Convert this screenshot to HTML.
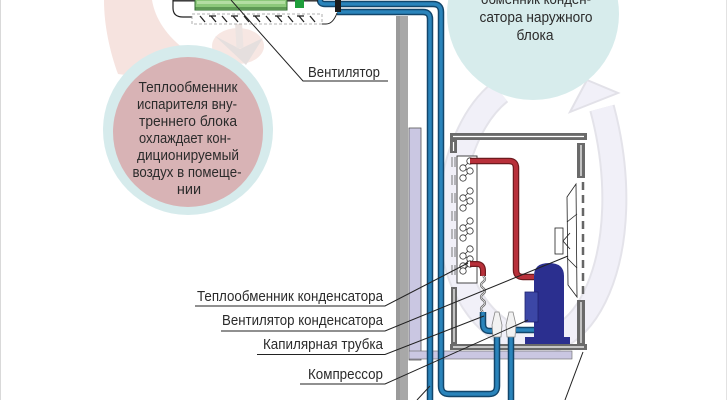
<!DOCTYPE html>
<html><head><meta charset="utf-8">
<style>
html,body{margin:0;padding:0;background:#fff}
svg{display:block}
text{font-family:"Liberation Sans","DejaVu Sans",sans-serif;fill:#2b2b2b}
</style></head>
<body>
<svg width="728" height="400" viewBox="0 0 728 400" xmlns="http://www.w3.org/2000/svg">
<rect width="728" height="400" fill="#fff"/>

<!-- pale background arrows -->
<path d="M104 0 L152 0 C155 18 166 36 188 52 L160 80 L118 74 C110 52 104 26 104 0 Z" fill="#f6e3df"/>
<ellipse cx="238" cy="46" rx="26" ry="18" fill="#f7e7e3"/>
<polygon points="215,36 240,49 263,38 246,65" fill="#e5dfde"/>
<line x1="238" y1="14" x2="240" y2="48" stroke="#ece4e2" stroke-width="7"/>

<!-- lavender loop around outdoor unit -->
<path d="M500 92 C440 140 425 290 510 336 C585 372 640 250 602 108" fill="none" stroke="#e4e3ea" stroke-width="26"/>
<path d="M500 92 C440 140 425 290 510 336 C585 372 640 250 602 108" fill="none" stroke="#f1f0f8" stroke-width="22"/>
<polygon points="587,80 570,112 618,93" fill="#f1f0f8" stroke="#e2e1e8" stroke-width="2"/>

<!-- right circle -->
<circle cx="533" cy="14" r="86" fill="#d7ecec"/>
<text x="536" y="4" font-size="14.5" text-anchor="middle" textLength="110" lengthAdjust="spacingAndGlyphs">обменник конден-</text>
<text x="536" y="22" font-size="14.5" text-anchor="middle" textLength="113" lengthAdjust="spacingAndGlyphs">сатора наружного</text>
<text x="535" y="40" font-size="14.5" text-anchor="middle" textLength="37" lengthAdjust="spacingAndGlyphs">блока</text>

<!-- left circle -->
<circle cx="188" cy="130" r="85" fill="#d6ebec"/>
<circle cx="188" cy="132" r="75" fill="#d8b3b5"/>
<g font-size="14.5" text-anchor="middle">
<text x="188" y="92" textLength="99" lengthAdjust="spacingAndGlyphs">Теплообменник</text>
<text x="187" y="109" textLength="100" lengthAdjust="spacingAndGlyphs">испарителя вну-</text>
<text x="188" y="126" textLength="98" lengthAdjust="spacingAndGlyphs">треннего блока</text>
<text x="185" y="143" textLength="92" lengthAdjust="spacingAndGlyphs">охлаждает кон-</text>
<text x="188" y="160" textLength="102" lengthAdjust="spacingAndGlyphs">диционируемый</text>
<text x="187" y="177" textLength="109" lengthAdjust="spacingAndGlyphs">воздух в помеще-</text>
<text x="189" y="194">нии</text>
</g>

<!-- wall -->
<rect x="396" y="16" width="12" height="384" fill="#a8a8a8"/>
<rect x="396" y="16" width="4" height="384" fill="#9a9a9a"/>
<!-- lavender strips -->
<rect x="409" y="128" width="12" height="232" fill="#cac7e2" stroke="#555" stroke-width="0.8"/>
<rect x="409" y="351" width="163" height="8" fill="#cac7e2" stroke="#666" stroke-width="0.6"/>

<!-- outdoor unit frame -->
<g fill="#6a6a6a">
<rect x="450" y="133" width="137" height="7"/>
<rect x="450" y="140" width="7" height="13"/>
<rect x="451" y="287" width="6" height="57"/>
<rect x="450" y="344" width="137" height="6"/>
<rect x="577" y="143" width="8" height="35"/>
<rect x="577" y="300" width="8" height="45"/>
</g>
<g stroke="#fff" stroke-width="1.2">
<line x1="453" y1="136.5" x2="584" y2="136.5"/>
<line x1="453" y1="347" x2="584" y2="347"/>
<line x1="453.5" y1="142" x2="453.5" y2="151"/>
<line x1="454" y1="289" x2="454" y2="342"/>
<line x1="581" y1="145" x2="581" y2="176"/>
<line x1="581" y1="302" x2="581" y2="343"/>
</g>
<g stroke="#777" stroke-width="1" stroke-dasharray="10 8">
<line x1="452" y1="157" x2="452" y2="283"/>
<line x1="455" y1="157" x2="455" y2="283"/>
</g>
<line x1="583" y1="182" x2="583" y2="298" stroke="#666" stroke-width="2.5" stroke-dasharray="8 5"/>

<!-- coil -->
<rect x="457" y="156" width="20" height="127" fill="#fff" stroke="#333" stroke-width="0.9"/>
<g fill="#fff" stroke="#333" stroke-width="0.8">
<g id="grp">
<line x1="470" y1="161" x2="463" y2="168"/><line x1="463" y1="168" x2="470" y2="171"/><line x1="470" y1="171" x2="463" y2="178"/>
<circle cx="470" cy="161" r="3.2"/><circle cx="463" cy="168" r="3.2"/><circle cx="470" cy="171" r="3.2"/><circle cx="463" cy="178" r="3.2"/>
</g>
<use href="#grp" y="30"/>
<use href="#grp" y="60"/>
<use href="#grp" y="88"/>
<circle cx="470" cy="264" r="3.2"/><circle cx="463" cy="271" r="3.2"/><line x1="468" y1="266" x2="465" y2="269"/>
</g>

<!-- red pipes -->
<path d="M470 161 L509 161 Q516 161 516 168 L516 270 Q516 277 523 277 L534 277" fill="none" stroke="#6e1a1e" stroke-width="6.5"/>
<path d="M470 161 L509 161 Q516 161 516 168 L516 270 Q516 277 523 277 L534 277" fill="none" stroke="#b8303a" stroke-width="4"/>
<path d="M470 264 L477 264 Q483 264 483 271 L483 276" fill="none" stroke="#6e1a1e" stroke-width="6"/>
<path d="M470 264 L477 264 Q483 264 483 271 L483 276" fill="none" stroke="#b8303a" stroke-width="3.6"/>
<!-- capillary -->
<path d="M483 276 q4 3 0 6 q-4 3 0 6 q4 3 0 6 q-4 3 0 6 q4 3 0 6 q-4 3 0 6" fill="none" stroke="#555" stroke-width="2.2"/>
<path d="M483 276 q4 3 0 6 q-4 3 0 6 q4 3 0 6 q-4 3 0 6 q4 3 0 6 q-4 3 0 6" fill="none" stroke="#ddd" stroke-width="0.9"/>

<!-- compressor -->
<path d="M534 338 L534 276 Q534 263 549 263 Q564 263 564 276 L564 338 Z" fill="#2b2f8f"/>
<rect x="525" y="337" width="45" height="7" fill="#2b2f8f"/>
<rect x="525" y="292" width="13" height="30" fill="#3c47a6" stroke="#1e2170" stroke-width="0.8"/>

<!-- fan -->
<rect x="555" y="228" width="8" height="26" fill="#fff" stroke="#222" stroke-width="0.8"/>
<polygon points="567,197 576,184 577,297 568,285" fill="#fff" stroke="#222" stroke-width="0.8"/>
<g stroke="#222" stroke-width="0.8" fill="none">
<line x1="567" y1="222" x2="577" y2="214"/>
<line x1="567" y1="258" x2="577" y2="268"/>
<line x1="563" y1="241" x2="570" y2="233"/>
<line x1="563" y1="241" x2="570" y2="249"/>
</g>

<!-- blue pipes -->
<g fill="none" stroke="#12466b" stroke-width="6.5">
<path d="M320 -6 L320 0 Q320 4 325 4 L433 4 Q441 4 441 12 L441 386 Q441 394 449 394 L489 394 Q497 394 497 386 L497 336"/>
<path d="M337 12 L423 12 Q430 12 430 19 L430 400"/>
<path d="M511 336 L511 400"/>
<path d="M516 330 L534 330"/>
<path d="M483 312 L483 324 Q483 331 490 331 L494 331"/>
</g>
<g fill="none" stroke="#2a84bb" stroke-width="3.5">
<path d="M320 -6 L320 0 Q320 4 325 4 L433 4 Q441 4 441 12 L441 386 Q441 394 449 394 L489 394 Q497 394 497 386 L497 336"/>
<path d="M337 12 L423 12 Q430 12 430 19 L430 400"/>
<path d="M511 336 L511 400"/>
<path d="M516 330 L534 330"/>
<path d="M483 312 L483 324 Q483 331 490 331 L494 331"/>
</g>
<!-- valves -->
<g fill="#f2f2f2" stroke="#888" stroke-width="0.8">
<path d="M495 312 L499 312 L502 325 L501 337 L493 337 L492 325 Z"/>
<path d="M509 312 L513 312 L516 325 L515 337 L507 337 L506 325 Z"/>
</g>

<!-- indoor unit -->
<line x1="173" y1="0.8" x2="318" y2="0.8" stroke="#222" stroke-width="1.4"/>
<path d="M173 0 L173 8 Q173 17 183 17 L192 17" fill="none" stroke="#222" stroke-width="1.2"/>
<rect x="195" y="-2" width="92" height="12" fill="#8cc97a" stroke="#2f6b2f" stroke-width="1"/>
<rect x="197" y="1" width="88" height="3" fill="#b3dea2"/>
<line x1="195" y1="8" x2="287" y2="8" stroke="#2f6b2f" stroke-width="1"/>
<rect x="295" y="0" width="9" height="8" fill="#1f9e3b"/>
<rect x="192" y="14" width="130" height="10" fill="#fff" stroke="#999" stroke-width="0.8" stroke-dasharray="3 2"/>
<g stroke="#222" stroke-width="1.3">
<line x1="200" y1="16" x2="205" y2="22"/>
<line x1="211" y1="16" x2="216" y2="22"/><line x1="209" y1="16" x2="216" y2="16"/>
<line x1="222" y1="16" x2="227" y2="22"/>
<line x1="233" y1="16" x2="238" y2="22"/><line x1="231" y1="16" x2="238" y2="16"/>
<line x1="244" y1="16" x2="249" y2="22"/>
<line x1="255" y1="16" x2="260" y2="22"/><line x1="253" y1="16" x2="260" y2="16"/>
<line x1="266" y1="16" x2="271" y2="22"/>
<line x1="277" y1="16" x2="282" y2="22"/><line x1="275" y1="16" x2="282" y2="16"/>
<line x1="288" y1="16" x2="293" y2="22"/>
<line x1="299" y1="16" x2="304" y2="22"/><line x1="297" y1="16" x2="304" y2="16"/>
<line x1="310" y1="16" x2="315" y2="22"/>
</g>
<path d="M322 24 L326 24 Q333 24 337 13" fill="none" stroke="#222" stroke-width="1"/>
<rect x="335" y="0" width="6" height="12" fill="#1b1b1b"/>

<!-- leader lines -->
<g fill="none" stroke="#222" stroke-width="1">
<polyline points="231,0 303,81 388,81"/>
<polyline points="195,306 385,306 468,263"/>
<polyline points="221,331 385,331 568,256"/>
<polyline points="257,354.5 385,354.5 484,316"/>
<polyline points="300,384 385,384 528,320"/>
<line x1="417" y1="400" x2="430" y2="386"/>
<line x1="565" y1="400" x2="583" y2="352"/>
</g>

<!-- labels -->
<g font-size="14.5">
<text x="308" y="77" textLength="72" lengthAdjust="spacingAndGlyphs">Вентилятор</text>
<text x="197" y="301" textLength="186" lengthAdjust="spacingAndGlyphs">Теплообменник конденсатора</text>
<text x="222" y="325" textLength="161" lengthAdjust="spacingAndGlyphs">Вентилятор конденсатора</text>
<text x="263" y="349" textLength="120" lengthAdjust="spacingAndGlyphs">Капилярная трубка</text>
<text x="308" y="379" textLength="75" lengthAdjust="spacingAndGlyphs">Компрессор</text>
</g>

<!-- frame borders -->
<line x1="0.5" y1="0" x2="0.5" y2="400" stroke="#d9d9d9" stroke-width="1"/>
<line x1="726.5" y1="0" x2="726.5" y2="400" stroke="#e2e2e2" stroke-width="1"/>
</svg>
</body></html>
